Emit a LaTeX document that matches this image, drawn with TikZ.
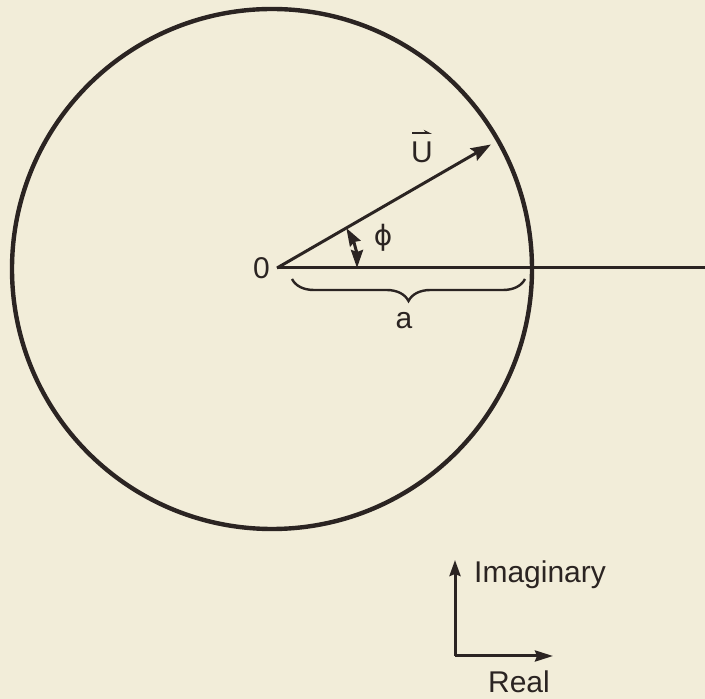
\documentclass[tikz,border=0pt]{standalone}
\usepackage{fontspec}
\setmainfont{Liberation Sans}
\newfontfamily\symbfont{DejaVu Sans}
\usetikzlibrary{arrows.meta,decorations.pathreplacing,calc}
\definecolor{paper}{HTML}{F2EDD9}
\definecolor{ink}{HTML}{2B2422}
\tikzset{
  ink line/.style={draw=ink, line width=3pt},
  vec arrow/.style={ink line, -{Stealth[length=20pt,width=14pt,inset=3pt]}},
  lbl/.style={text=ink, font=\fontsize{30}{34}\selectfont, inner sep=0pt},
}
\begin{document}
\begin{tikzpicture}[x=1pt,y=1pt]
\fill[paper] (0,0) rectangle (705,699);
\useasboundingbox (0,0) rectangle (705,699);
% circle
\coordinate (C) at (272,430);
\draw[draw=ink, line width=4.4pt] (C) circle[radius=260];
% origin and real line
\coordinate (O) at (277,431);
\coordinate (E) at (705,431);
\draw[ink line] (O) -- (E);
\node[lbl, anchor=east] (zero) at (270,431) {0};
% vector U
\coordinate (T) at ($(O)+(30:247)$);
\draw[vec arrow] (O) -- (T);
\node[lbl] (U) at (422,547) {U};
\draw[draw=ink, line width=2pt, -{Stealth[length=7pt,width=7pt,left]}] ($(U.north)+(-10,8)$) -- ($(U.north)+(10,8)$);
% angle phi
\coordinate (A1) at ($(O)+(30:80)$);
\draw[ink line, {Stealth[length=18pt,width=12pt,inset=2pt]}-{Stealth[length=18pt,width=12pt,inset=2pt]}] (A1) arc[start angle=30, end angle=0, radius=80];
\node[lbl, font=\symbfont\fontsize{28}{32}\selectfont] (phi) at (383,461) {ϕ};
% brace a
\coordinate (B1) at (292,420);
\coordinate (B2) at (525,420);
\draw[ink line, line width=2.4pt, decorate, decoration={brace, mirror, amplitude=22pt}] (B1) -- (B2);
\node[lbl] (a) at (404,378) {a};
% axes
\coordinate (K) at (455,43);
\coordinate (Up) at (455,139);
\coordinate (Rt) at (553,43);
\draw[ink line, -{Stealth[length=16pt,width=11pt,inset=2pt]}] (K) -- (Up);
\draw[ink line, -{Stealth[length=18pt,width=11pt,inset=2pt]}] (K) -- (Rt);
\node[lbl, anchor=west] (im) at (474,124) {Imaginary};
\node[lbl, anchor=base] (re) at (519,6) {Real};
\end{tikzpicture}
\end{document}
